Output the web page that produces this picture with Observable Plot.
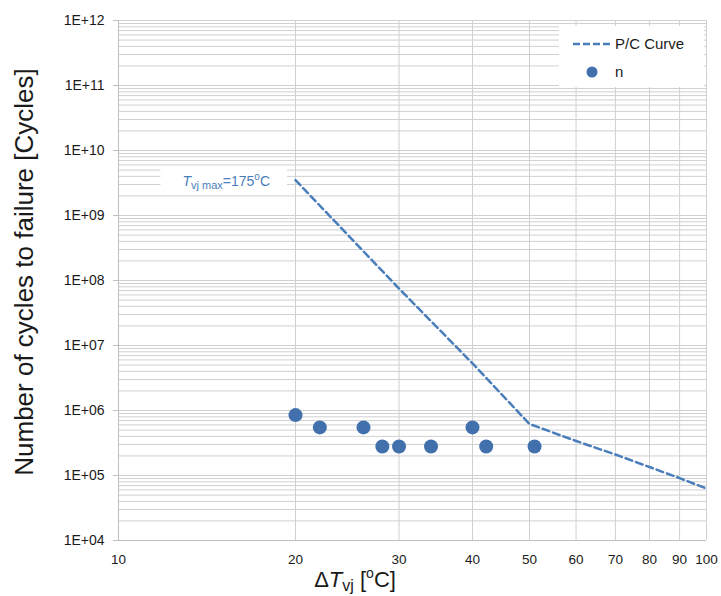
<!DOCTYPE html>
<html><head><meta charset="utf-8">
<script src="https://cdn.jsdelivr.net/npm/d3@7"></script>
<script src="https://cdn.jsdelivr.net/npm/@observablehq/plot@0.6"></script>
<style>body{margin:0;background:#fff} svg{font-family:"Liberation Sans",Arial,sans-serif}</style>
</head><body><div id="chart"></div>
<script>
const xTickValues = [10, 20, 30, 40, 50, 60, 70, 80, 90, 100];
const xGridValues = [20, 30, 40, 50, 60, 70, 80, 90, 100];
const yTickValues = [1e4, 1e5, 1e6, 1e7, 1e8, 1e9, 1e10, 1e11, 1e12];
const yTickLabels = ["1E+04", "1E+05", "1E+06", "1E+07", "1E+08", "1E+09", "1E+10", "1E+11", "1E+12"];
const yMinorMultipliers = [1, 2, 3, 4, 5, 6, 7, 8, 9];

const curveDeltaT = [20, 30, 40, 50, 60, 70, 80, 90, 100];
const curveCycles = [3.5e9, 7.5e7, 5.3e6, 6.2e5, 3.4e5, 2.1e5, 1.35e5, 9.1e4, 6.3e4];

const pointDeltaT = [20, 22, 26.1, 28.1, 30, 34, 40, 42.2, 51];
const pointCycles = [8.5e5, 5.5e5, 5.5e5, 2.8e5, 2.8e5, 2.8e5, 5.5e5, 2.8e5, 2.8e5];

const seriesNames = ["P/C Curve", "n"];

const lineColor = "#4a7ebb";
const dotColor = "#4170ad";
const gridColor = "#d0d0d0";
const axisColor = "#bfbfbf";

const yGrid = [];
for (const d of yTickValues.slice(0, -1)) for (const m of yMinorMultipliers) yGrid.push(d * m);
yGrid.push(yTickValues[yTickValues.length - 1]);

const curve = curveDeltaT.map((x, i) => ({x, y: curveCycles[i]}));
const pts = pointDeltaT.map((x, i) => ({x, y: pointCycles[i]}));

const plot = Plot.plot({
  width: 721, height: 596,
  marginLeft: 118, marginRight: 15, marginTop: 20, marginBottom: 56,
  style: {fontFamily: '"Liberation Sans", Arial, sans-serif', background: "#fff", overflow: "visible"},
  x: {type: "log", domain: [10, 100]},
  y: {type: "log", domain: [1e4, 1e12]},
  marks: [
    Plot.ruleY(yGrid, {y: d => d, stroke: gridColor, strokeWidth: 1}),
    Plot.ruleX(xGridValues, {x: d => d, stroke: gridColor, strokeWidth: 1}),
    Plot.ruleX([10], {x: d => d, stroke: axisColor}),
    Plot.ruleY([1e4], {y: d => d, stroke: axisColor}),
    Plot.axisY({ticks: yTickValues, tickFormat: d => yTickLabels[yTickValues.indexOf(d)], tickSize: 5, tickPadding: 9, fontSize: 14, stroke: axisColor, fill: "#1a1a1a", label: null}),
    Plot.axisX({ticks: xTickValues, tickFormat: d => String(d), tickSize: 0, tickPadding: 14, fontSize: 13.5, fill: "#1a1a1a", label: null}),
    Plot.line(curve, {x: "x", y: "y", stroke: lineColor, strokeWidth: 2.5, strokeDasharray: "7,4"}),
    Plot.dot(pts, {x: "x", y: "y", r: 7, fill: dotColor, stroke: "none"})
  ]
});
document.getElementById("chart").appendChild(plot);

const svg = d3.select(plot);
const xs = plot.scale("x"), ys = plot.scale("y");

// Annotation label at the start of the curve
const ax = xs.apply(curveDeltaT[0]) - 25;
const ay = ys.apply(curveCycles[0]) + 6;
const annG = svg.append("g");
const annRect = annG.append("rect").attr("fill", "#fff");
const ann = annG.append("text").attr("x", ax).attr("y", ay).attr("text-anchor", "end")
  .attr("fill", lineColor).attr("font-size", 14);
ann.append("tspan").attr("font-style", "italic").text("T");
ann.append("tspan").attr("font-size", 11).attr("dy", 3).text("vj max");
ann.append("tspan").attr("dy", -3).text("=175");
ann.append("tspan").attr("font-size", 10).attr("dy", -6).text("o");
ann.append("tspan").attr("dy", 6).text("C");
const bb = ann.node().getBBox();
annRect.attr("x", bb.x - 22).attr("y", bb.y - 3).attr("width", bb.width + 39).attr("height", bb.height + 6);

// Legend
const lg = svg.append("g").attr("text-anchor", "start");
lg.append("rect").attr("x", 559).attr("y", 26).attr("width", 145).attr("height", 61).attr("fill", "#fff");
lg.append("line").attr("x1", 573).attr("x2", 612).attr("y1", 44).attr("y2", 44)
  .attr("stroke", lineColor).attr("stroke-width", 2.5).attr("stroke-dasharray", "7,3");
lg.append("text").attr("x", 615).attr("y", 49).attr("font-size", 15).attr("fill", "#1a1a1a").text(seriesNames[0]);
lg.append("circle").attr("cx", 592).attr("cy", 72).attr("r", 5.5).attr("fill", dotColor);
lg.append("text").attr("x", 615).attr("y", 77).attr("font-size", 15).attr("fill", "#1a1a1a").text(seriesNames[1]);

// X axis label
const xl = svg.append("text").attr("x", 355).attr("y", 587).attr("text-anchor", "middle")
  .attr("font-size", 22).attr("fill", "#1a1a1a");
xl.append("tspan").text("Δ");
xl.append("tspan").attr("font-style", "italic").text("T");
xl.append("tspan").attr("font-size", 16).attr("dy", 4).text("vj");
xl.append("tspan").attr("dy", -4).text(" [");
xl.append("tspan").attr("font-size", 14).attr("dy", -9).text("o");
xl.append("tspan").attr("dy", 9).text("C]");

// Y axis label
svg.append("text").attr("transform", "translate(33,272) rotate(-90)").attr("text-anchor", "middle")
  .attr("font-size", 26).attr("fill", "#1a1a1a").text("Number of cycles to failure [Cycles]");
</script></body></html>
